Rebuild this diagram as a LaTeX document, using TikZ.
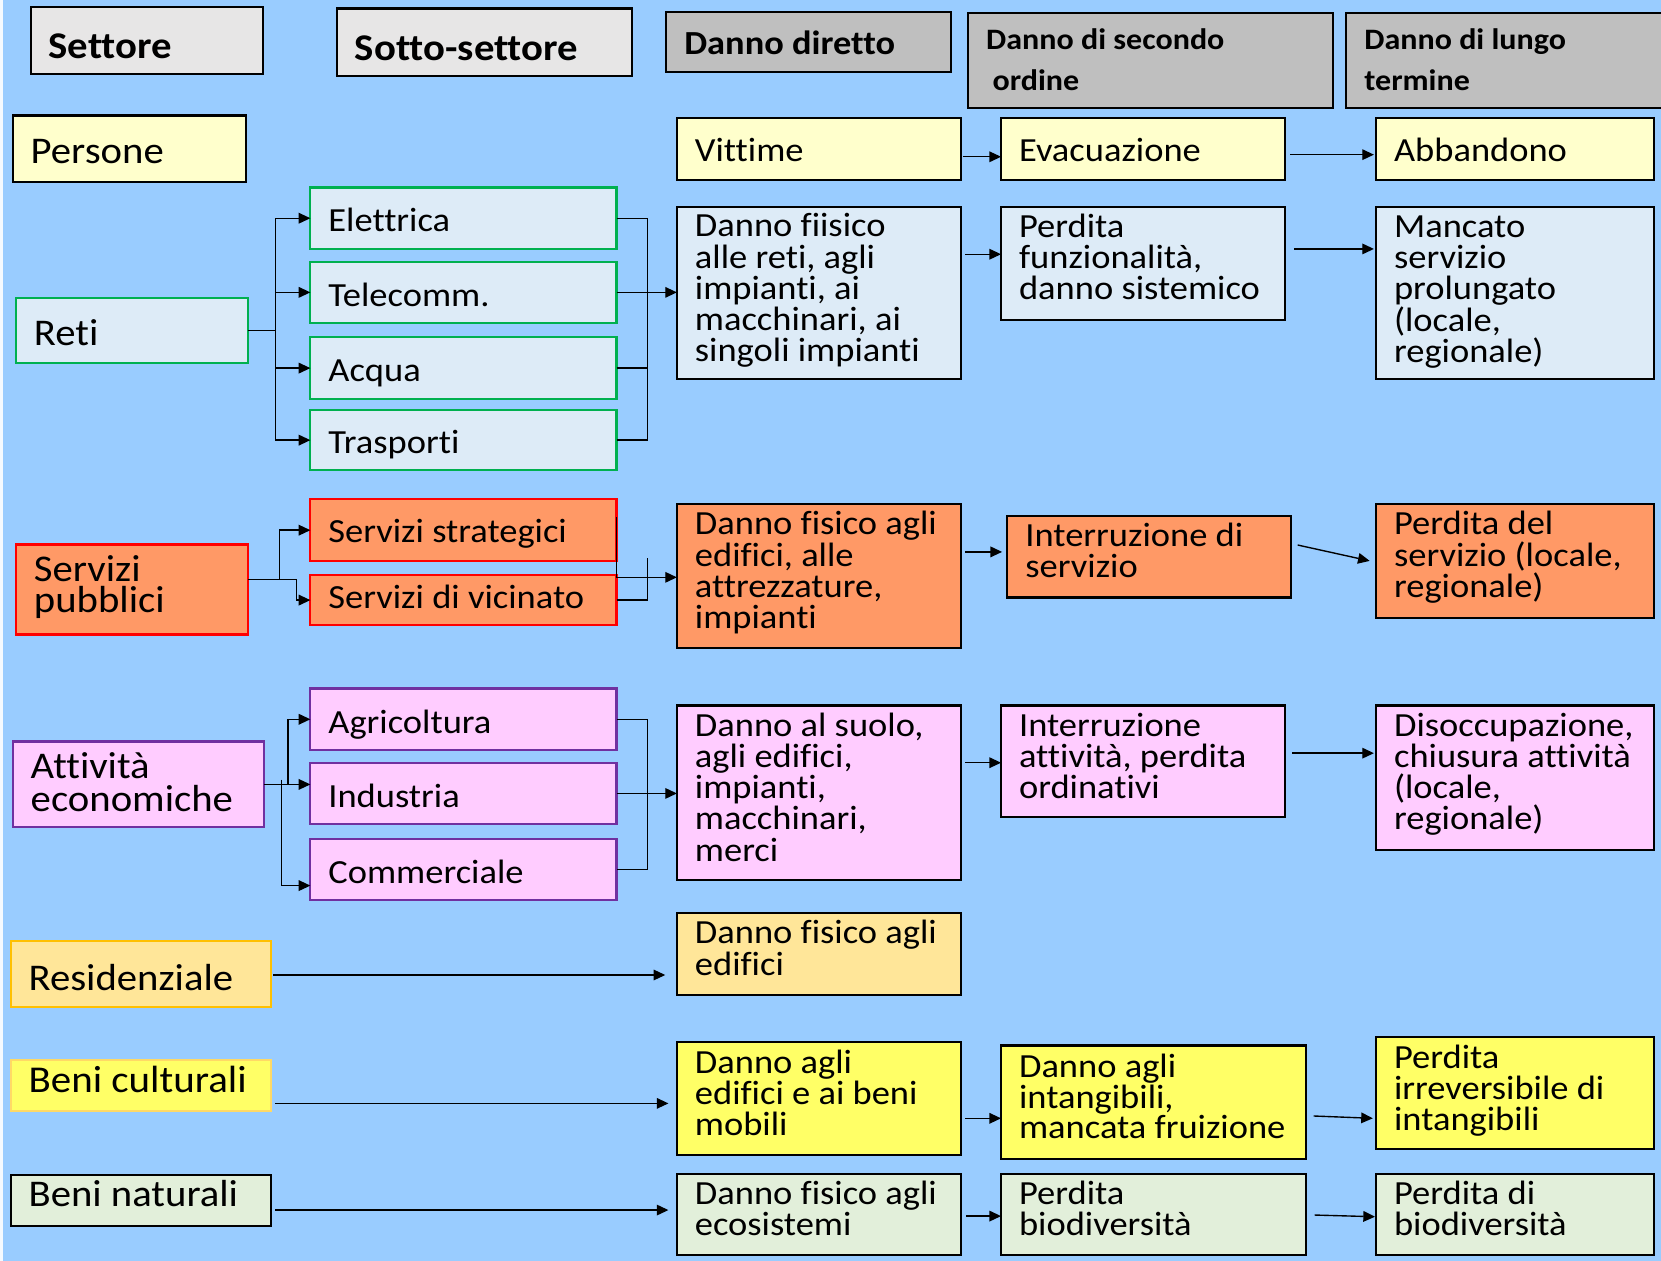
\documentclass[tikz,border=0pt]{standalone}
\usepackage{fontspec}
\setmainfont{Carlito}[FakeStretch=1.08, RawFeature={-liga;-clig;-dlig;-calt;-rlig}]
\usetikzlibrary{arrows.meta,calc}
\definecolor{bgblue}{HTML}{99CCFF}
\definecolor{hdlight}{HTML}{E7E6E6}
\definecolor{hddark}{HTML}{BFBFBF}
\definecolor{pyel}{HTML}{FFFFCC}
\definecolor{rblue}{HTML}{DDEBF7}
\definecolor{rgreen}{HTML}{00B050}
\definecolor{sorange}{HTML}{FF9966}
\definecolor{sred}{HTML}{FF0000}
\definecolor{apink}{HTML}{FFCCFF}
\definecolor{apurple}{HTML}{7030A0}
\definecolor{rgold}{HTML}{FFE699}
\definecolor{rgoldb}{HTML}{FFC000}
\definecolor{cyel}{HTML}{FFFF66}
\definecolor{cyelb}{HTML}{FFD966}
\definecolor{ngreen}{HTML}{E2EFDA}
\newcommand\ftBody{\fontsize{31.9}{29.5}\selectfont}
\newcommand\ftBodyT{\fontsize{31.9}{29}\selectfont}
\newcommand\ftLeft{\fontsize{35.6}{29.5}\selectfont}
\newcommand\ftLeftA{\fontsize{35.6}{31}\selectfont}
\newcommand\ftBeni{\fontsize{35.8}{29.5}\selectfont}
\newcommand\ftHead{\bfseries\fontsize{35.6}{38}\selectfont}
\newcommand\ftHeadM{\bfseries\fontsize{31.8}{38}\selectfont}
\newcommand\ftHeadS{\bfseries\fontsize{28}{38}\selectfont}
\newcommand\bx[5]{\parbox[c][#2pt][t]{#1pt}{#4\lineskiplimit=-200pt\leftskip=17pt\rightskip=-300pt plus 1fil\rule{0pt}{#3pt}#5}}
\tikzset{
  box/.style={draw=black, line width=2pt, inner sep=0pt, outer sep=0pt, anchor=north west},
  hdl/.style={box, fill=hdlight},
  hdd/.style={box, fill=hddark},
  pers/.style={box, fill=pyel},
  reti/.style={box, fill=rblue},
  retig/.style={reti, draw=rgreen},
  serv/.style={box, fill=sorange},
  servr/.style={serv, draw=sred},
  att/.style={box, fill=apink},
  attp/.style={att, draw=apurple},
  res/.style={box, fill=rgold},
  cul/.style={box, fill=cyel},
  nat/.style={box, fill=ngreen},
  ln/.style={line width=1.3pt, draw=black},
  arr/.style={ln, -{Triangle[length=11pt,width=10pt]}}
}
\begin{document}
\begin{tikzpicture}[x=1pt,y=-1pt]
\useasboundingbox (0,0) rectangle (1568,1190);
\fill[bgblue] (0,0) rectangle (1568,1190);
\fill[white!90!bgblue] (0,0) rectangle (2.5,1190);
% headers
\node[hdl] (settore) at (29,7) {\bx{219}{63}{48}{\ftHead}{Settore}};
\node[hdl] (sotto) at (318,8) {\bx{279}{64}{49}{\ftHead}{Sotto-settore}};
\node[hdd] (diretto) at (629,11) {\bx{269}{57}{40}{\ftHeadM}{Danno diretto}};
\node[hdd] (secondo) at (914,12) {\bx{344}{90}{35}{\ftHeadS}{Danno di secondo\\\hspace*{6pt}ordine}};
\node[hdd] (lungo) at (1271,12) {\bx{310}{90}{35}{\ftHeadS}{Danno di lungo\\termine}};
% persone
\node[pers] (persone) at (12,109) {\bx{220}{63}{45}{\ftLeft}{Persone}};
\node[pers] (vittime) at (639,111) {\bx{268}{59}{41}{\ftBody}{Vittime}};
\node[pers] (evac) at (945,111) {\bx{268}{59}{41}{\ftBody}{Evacuazione}};
\node[pers] (abband) at (1299,111) {\bx{262}{59}{41}{\ftBody}{Abbandono}};
% reti
\node[retig] (retin) at (15,281) {\bx{219}{62}{45}{\ftLeft}{Reti}};
\node[retig] (elet) at (293,177) {\bx{289}{58}{42}{\ftBody}{Elettrica}};
\node[retig] (tele) at (293,247) {\bx{289}{58}{42}{\ftBody}{Telecomm.}};
\node[retig] (acqua) at (293,318) {\bx{289}{59}{42}{\ftBody}{Acqua}};
\node[retig] (trasp) at (293,387) {\bx{289}{57}{41}{\ftBody}{Trasporti}};
\node[reti] (dfis) at (639,195) {\bx{268}{163}{28.5}{\ftBody}{Danno fiisico\\alle reti, agli\\impianti, ai\\macchinari, ai\\singoli impianti}};
\node[reti] (perdf) at (945,195) {\bx{268}{107}{29}{\ftBody}{Perdita\\funzionalità,\\danno sistemico}};
\node[reti] (manc) at (1299,195) {\bx{262}{163}{29}{\ftBody}{Mancato\\servizio\\prolungato\\(locale,\\regionale)}};
% servizi
\node[servr] (servp) at (15,514) {\bx{219}{85}{35}{\ftLeft}{Servizi\\pubblici}};
\node[servr] (strat) at (293,471) {\bx{289}{59}{41}{\ftBody}{Servizi strategici}};
\node[servr] (vicin) at (293,543) {\bx{289}{47}{31}{\ftBody}{Servizi di vicinato}};
\node[serv] (dfis2) at (639,476) {\bx{268}{136}{29}{\ftBody}{Danno fisico agli\\edifici, alle\\attrezzature,\\impianti}};
\node[serv] (interr) at (951,487) {\bx{268}{77}{29}{\ftBody}{Interruzione di\\servizio}};
\node[serv] (perdser) at (1299,476) {\bx{262}{107}{29}{\ftBody}{Perdita del\\servizio (locale,\\regionale)}};
% attivita
\node[attp] (attn) at (12,700) {\bx{237}{81}{35}{\ftLeftA}{Attività\\economiche}};
\node[attp] (agri) at (293,650) {\bx{289}{58}{42}{\ftBody}{Agricoltura}};
\node[attp] (indu) at (293,720) {\bx{289}{58}{42}{\ftBody}{Industria}};
\node[attp] (comm) at (293,792) {\bx{289}{58}{42}{\ftBody}{Commerciale}};
\node[att] (dsuolo) at (639,666) {\bx{268}{165}{29}{\ftBody}{Danno al suolo,\\agli edifici,\\impianti,\\macchinari,\\merci}};
\node[att] (intatt) at (945,666) {\bx{268}{105}{29}{\ftBody}{Interruzione\\attività, perdita\\ordinativi}};
\node[att] (disocc) at (1299,666) {\bx{262}{136}{29}{\ftBody}{Disoccupazione,\\chiusura attività\\(locale,\\regionale)}};
% residenziale
\node[res, draw=rgoldb] (resid) at (10,888) {\bx{246}{63}{47}{\ftLeft}{Residenziale}};
\node[res] (dfis3) at (639,862) {\bx{268}{77}{29}{\ftBody}{Danno fisico agli\\edifici}};
% beni culturali
\node[cul, draw=cyelb] (benic) at (10,1001) {\bx{246}{48}{30}{\ftBeni}{Beni culturali}};
\node[cul] (dedif) at (639,984) {\bx{268}{106}{29}{\ftBody}{Danno agli\\edifici e ai beni\\mobili}};
\node[cul] (dint) at (945,987) {\bx{288}{107}{30}{\ftBodyT}{Danno agli\\intangibili,\\mancata fruizione}};
\node[cul] (pirr) at (1299,979) {\bx{262}{106}{30}{\ftBodyT}{Perdita\\irreversibile di\\intangibili}};
% beni naturali
\node[nat] (benin) at (10,1109) {\bx{246}{48}{30}{\ftLeft}{Beni naturali}};
\node[nat] (deco) at (639,1108) {\bx{268}{77}{29}{\ftBodyT}{Danno fisico agli\\ecosistemi}};
\node[nat] (pbio) at (945,1108) {\bx{288}{77}{29}{\ftBodyT}{Perdita\\biodiversità}};
\node[nat] (pdbio) at (1299,1108) {\bx{262}{77}{29}{\ftBodyT}{Perdita di\\biodiversità}};
% helper coordinates
\coordinate (rb) at (260,0);
\coordinate (rb2) at (611,0);
\coordinate (sj) at (264,547);
\coordinate (sb2) at (280,0);
\coordinate (sr) at (583,545);
\coordinate (vtop) at (611,527);
\coordinate (aj) at (272,0);
\coordinate (abt) at (266,736);
\coordinate (abb) at (266,836);
\coordinate (yA) at (0,148);
\coordinate (yB) at (0,146);
\coordinate (yC) at (0,240);
\coordinate (yD) at (0,235);
\coordinate (yE) at (0,521);
\coordinate (yF) at (0,720);
\coordinate (yG) at (0,711);
\coordinate (yH) at (0,920.4);
\coordinate (yI) at (0,1041.6);
\coordinate (yJ) at (0,1142.3);
\coordinate (yK) at (0,1055.7);
\coordinate (yK2) at (0,1053.5);
\coordinate (yL) at (0,1148);
\coordinate (yL2) at (0,1147);
\coordinate (yL3) at (0,1148.6);
% reti connectors
\draw[ln] (retin.east) -- (retin.east -| rb);
\draw[ln] (rb |- elet.west) -- (rb |- trasp.west);
\draw[arr] (rb |- elet.west) -- (elet.west);
\draw[arr] (rb |- tele.west) -- (tele.west);
\draw[arr] (rb |- acqua.west) -- (acqua.west);
\draw[arr] (rb |- trasp.west) -- (trasp.west);
\draw[ln] (elet.east) -- (elet.east -| rb2) -- (trasp.east -| rb2) -- (trasp.east);
\draw[ln] (tele.east) -- (tele.east -| rb2);
\draw[ln] (acqua.east) -- (acqua.east -| rb2);
\draw[arr] (tele.east -| rb2) -- (tele.east -| dfis.west);
% servizi connectors
\draw[arr] (servp.east |- sj) -- (sj) -- (sj |- strat.west) -- (strat.west);
\draw[arr] (sj) -- (sj -| sb2) -- (sb2 |- vicin.west) -- (vicin.west);
\draw[arr] ($(strat.east)+(0,-12)$) -- (strat.east |- sr) -- (sr -| dfis2.west);
\draw[ln] (vicin.east) -- (vicin.east -| rb2) -- (vtop);
% attivita connectors
\draw[arr] (attn.east) -- (attn.east -| aj) -- (aj |- agri.west) -- (agri.west);
\draw[arr] (attn.east) -- (attn.east -| indu.west);
\draw[arr] (abt) -- (abb) -- (abb -| comm.west);
\draw[ln] (agri.east) -- (agri.east -| rb2) -- (comm.east -| rb2) -- (comm.east);
\draw[arr] (indu.east) -- (indu.east -| dsuolo.west);
% left column long arrows
\draw[arr] ($(resid.east |- yH)+(2,0)$) -- ($(dfis3.west |- yH)+(-11,0)$);
\draw[arr] ($(benic.east |- yI)+(4,0)$) -- ($(dedif.west |- yI)+(-8,0)$);
\draw[arr] ($(benin.east |- yJ)+(4,0)$) -- ($(deco.west |- yJ)+(-8,0)$);
% row arrows
\draw[arr] ($(vittime.east |- yA)+(2,0)$) -- (evac.west |- yA);
\draw[arr] ($(evac.east |- yB)+(5,0)$) -- ($(abband.west |- yB)+(-2,0)$);
\draw[arr] ($(dfis.east |- yC)+(4,0)$) -- (perdf.west |- yC);
\draw[arr] ($(perdf.east |- yD)+(9,0)$) -- ($(manc.west |- yD)+(-2,0)$);
\draw[arr] ($(dfis2.east |- yE)+(4,0)$) -- ($(interr.west |- yE)+(-5,0)$);
\draw[arr] ($(interr.east)+(6,-11)$) -- ($(perdser.west)+(-6,0)$);
\draw[arr] ($(dsuolo.east |- yF)+(4,0)$) -- (intatt.west |- yF);
\draw[arr] ($(intatt.east |- yG)+(7,0)$) -- ($(disocc.west |- yG)+(-2,0)$);
\draw[arr] ($(dedif.east |- yK)+(4,0)$) -- (dint.west |- yK);
\draw[arr] ($(dint.east |- yK2)+(7,0)$) -- ($(pirr.west |- yK)+(-3,0)$);
\draw[arr] ($(deco.east |- yL)+(5,0)$) -- (pbio.west |- yL);
\draw[arr] ($(pbio.east |- yL2)+(8,0)$) -- ($(pdbio.west |- yL3)+(-1,0)$);
\end{tikzpicture}
\end{document}
